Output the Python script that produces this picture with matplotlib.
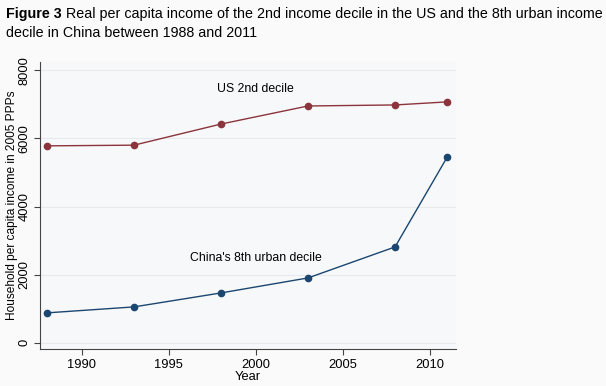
import numpy as np
import matplotlib.pyplot as plt

plt.rcParams['font.family'] = ['Liberation Sans', 'DejaVu Sans']

years = [1988, 1993, 1998, 2003, 2008, 2011]
us_2nd = [5780, 5800, 6420, 6950, 6980, 7070]
china_8th = [880, 1055, 1465, 1905, 2815, 5455]

yticks = [0, 2000, 4000, 6000, 8000]
xticks = [1990, 1995, 2000, 2005, 2010]

us_col = '#8c343c'
cn_col = '#1b4670'

fig = plt.figure(figsize=(6.06, 3.86), dpi=100)
fig.patch.set_facecolor('#fafafa')
ax = fig.add_axes([40 / 606, 37 / 386, 416 / 606, 287 / 386])
ax.set_facecolor('#f6f8fa')

ax.plot(years, us_2nd, color=us_col, lw=1, marker='o', ms=4.5)
ax.plot(years, china_8th, color=cn_col, lw=1, marker='o', ms=4.5)

ax.text(2000.0, 7440, 'US 2nd decile', ha='center', va='center', fontsize=8.8)
ax.text(2000.0, 2480, "China's 8th urban decile", ha='center', va='center', fontsize=8.8)

ax.set_xlim(1987.6, 2011.5)
ax.set_ylim(-180, 8240)
ax.set_xticks(xticks)
ax.set_yticks(yticks)
ax.set_yticklabels([str(t) for t in yticks], rotation=90, va='center')
ax.tick_params(labelsize=9.3, length=4, color='#444444', width=0.8, pad=3)
ax.grid(axis='y', color='#e6eaee', lw=0.8)
ax.set_axisbelow(True)
for s in ['top', 'right']:
    ax.spines[s].set_visible(False)
for s in ['left', 'bottom']:
    ax.spines[s].set_color('#444444')
    ax.spines[s].set_linewidth(0.8)

ax.set_xlabel('Year', fontsize=9.3, labelpad=0)
ax.set_ylabel('Household per capita income in 2005 PPPs', fontsize=8.6)
ax.yaxis.set_label_coords(-0.053, 0.5)

# title: bold "Figure 3" followed by normal text
t1 = fig.text(6 / 606, 1 - 14 / 386, 'Figure 3', fontsize=10.3, fontweight='bold', va='center')
fig.canvas.draw()
bb = t1.get_window_extent()
fig.text((bb.x1 + 4) / 606, 1 - 14 / 386,
         'Real per capita income of the 2nd income decile in the US and the 8th urban income',
         fontsize=10.3, va='center')
fig.text(6 / 606, 1 - 33 / 386, 'decile in China between 1988 and 2011', fontsize=10.3, va='center')

fig.savefig('out.png', dpi=100, facecolor=fig.get_facecolor())
